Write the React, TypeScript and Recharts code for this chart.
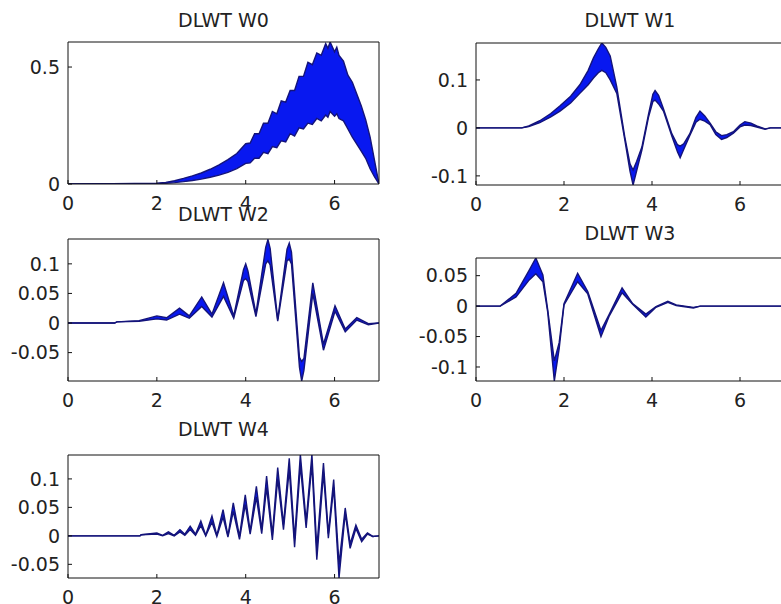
import { Area, ComposedChart, XAxis, YAxis } from "recharts"

const xTicks = [0, 2, 4, 6]

// W0 - dense band between lower and upper envelope
const w0X = [0, 1.0, 2.0, 2.2, 2.4, 2.6, 2.8, 3.0, 3.2, 3.4, 3.6, 3.8, 4.0, 4.1, 4.2, 4.3, 4.4, 4.5, 4.6, 4.7, 4.8, 4.9, 5.0, 5.1, 5.2, 5.3, 5.4, 5.5, 5.6, 5.7, 5.8, 5.85, 5.9, 6.0, 6.05, 6.1, 6.2, 6.3, 6.4, 6.5, 6.6, 6.7, 6.8, 6.9, 6.95, 7.0]
const w0Hi = [0, 0.001, 0.003, 0.007, 0.014, 0.024, 0.035, 0.047, 0.063, 0.082, 0.104, 0.13, 0.172, 0.175, 0.215, 0.215, 0.26, 0.26, 0.31, 0.3, 0.355, 0.35, 0.4, 0.4, 0.46, 0.46, 0.52, 0.51, 0.56, 0.55, 0.6, 0.58, 0.607, 0.565, 0.585, 0.55, 0.525, 0.465, 0.435, 0.385, 0.335, 0.275, 0.2, 0.1, 0.05, 0]
const w0Lo = [0, 0.001, 0.001, 0.003, 0.006, 0.01, 0.015, 0.021, 0.029, 0.038, 0.05, 0.066, 0.088, 0.09, 0.11, 0.11, 0.135, 0.13, 0.16, 0.155, 0.185, 0.18, 0.215, 0.205, 0.24, 0.235, 0.26, 0.255, 0.28, 0.27, 0.295, 0.285, 0.31, 0.29, 0.3, 0.28, 0.27, 0.235, 0.2, 0.17, 0.14, 0.11, 0.065, 0.03, 0.015, 0]

// W1
const w1X = [0, 1.04, 1.2, 1.45, 1.7, 1.91, 2.15, 2.36, 2.55, 2.67, 2.78, 2.86, 2.95, 3.05, 3.2, 3.38, 3.5, 3.57, 3.65, 3.77, 3.92, 4.02, 4.07, 4.15, 4.26, 4.45, 4.58, 4.64, 4.72, 4.86, 5.0, 5.09, 5.2, 5.32, 5.45, 5.58, 5.7, 5.85, 6.0, 6.11, 6.25, 6.38, 6.57, 6.69, 7]
const w1Hi = [0, 0, 0.004, 0.015, 0.03, 0.046, 0.066, 0.09, 0.12, 0.146, 0.165, 0.177, 0.168, 0.15, 0.085, -0.018, -0.075, -0.088, -0.07, -0.04, 0.028, 0.07, 0.078, 0.068, 0.04, -0.012, -0.035, -0.038, -0.033, -0.012, 0.022, 0.035, 0.025, 0.01, -0.008, -0.016, -0.014, -0.008, 0.006, 0.013, 0.01, 0.004, -0.002, 0, 0]
const w1Lo = [0, 0, 0.003, 0.011, 0.023, 0.035, 0.052, 0.072, 0.09, 0.104, 0.115, 0.12, 0.115, 0.1, 0.072, -0.024, -0.09, -0.119, -0.09, -0.046, 0.022, 0.055, 0.058, 0.05, 0.035, -0.017, -0.05, -0.062, -0.045, -0.016, 0.012, 0.018, 0.014, 0.007, -0.014, -0.024, -0.02, -0.011, 0.002, 0.006, 0.005, 0.002, -0.003, 0, 0]

// W2
const w2X = [0, 1.05, 1.1, 1.6, 2.0, 2.22, 2.51, 2.73, 3.01, 3.24, 3.5, 3.73, 3.95, 4.0, 4.05, 4.23, 4.45, 4.5, 4.55, 4.72, 4.93, 4.98, 5.03, 5.21, 5.26, 5.31, 5.51, 5.75, 6.01, 6.24, 6.5, 6.76, 7]
const w2Hi = [0, 0, 0.002, 0.004, 0.012, 0.009, 0.025, 0.012, 0.044, 0.015, 0.068, 0.012, 0.09, 0.1, 0.088, 0.016, 0.128, 0.141, 0.126, 0.006, 0.125, 0.135, 0.12, -0.058, -0.065, -0.06, 0.068, -0.036, 0.029, -0.01, 0.009, -0.001, 0]
const w2Lo = [0, 0, 0.002, 0.003, 0.007, 0.005, 0.015, 0.008, 0.028, 0.01, 0.045, 0.008, 0.072, 0.075, 0.07, 0.011, 0.1, 0.105, 0.098, 0.003, 0.105, 0.108, 0.1, -0.075, -0.098, -0.08, 0.05, -0.046, 0.02, -0.015, 0.005, -0.003, 0]

// W3
const w3X = [0, 0.55, 0.91, 1.21, 1.36, 1.52, 1.63, 1.78, 1.89, 2.0, 2.31, 2.54, 2.84, 3.03, 3.32, 3.56, 3.86, 4.09, 4.36, 4.55, 4.94, 5.1, 7]
const w3Hi = [0, 0, 0.021, 0.059, 0.079, 0.051, -0.006, -0.09, -0.06, 0.004, 0.054, 0.024, -0.04, -0.013, 0.03, 0.004, -0.013, -0.001, 0.008, 0.002, -0.002, 0, 0]
const w3Lo = [0, 0, 0.015, 0.043, 0.053, 0.04, -0.01, -0.123, -0.07, 0.002, 0.04, 0.02, -0.05, -0.016, 0.022, 0.003, -0.018, -0.002, 0.006, 0.001, -0.003, 0, 0]

// W4
const w4X = [0, 1.62, 1.65, 2.0, 2.13, 2.26, 2.39, 2.52, 2.63, 2.75, 2.87, 2.99, 3.1, 3.24, 3.35, 3.49, 3.6, 3.72, 3.86, 3.99, 4.1, 4.24, 4.36, 4.47, 4.6, 4.72, 4.85, 4.98, 5.1, 5.23, 5.36, 5.49, 5.6, 5.75, 5.86, 5.98, 6.1, 6.24, 6.35, 6.48, 6.61, 6.74, 6.86, 7]
const w4Hi = [0, 0, 0.002, 0.005, 0.001, 0.007, 0.001, 0.011, 0.003, 0.017, 0.003, 0.026, 0.001, 0.035, 0.001, 0.046, 0.0, 0.058, -0.001, 0.072, 0.008, 0.087, 0.011, 0.105, 0.002, 0.12, 0.02, 0.136, -0.005, 0.143, 0.025, 0.143, -0.022, 0.128, 0.004, 0.099, -0.05, 0.049, -0.014, 0.019, -0.006, 0.005, -0.001, 0]
const w4Lo = [0, 0, 0.002, 0.003, 0.0, 0.004, 0.0, 0.007, 0.001, 0.011, 0.001, 0.018, 0.0, 0.024, -0.001, 0.033, -0.002, 0.043, -0.006, 0.055, 0.003, 0.068, 0.004, 0.085, -0.007, 0.1, 0.011, 0.116, -0.02, 0.124, 0.014, 0.126, -0.042, 0.11, -0.004, 0.085, -0.074, 0.04, -0.022, 0.013, -0.01, 0.003, -0.001, 0]

const rows = (xs: number[], hi: number[], lo: number[]) =>
  xs.map((x, i) => ({ x, band: [lo[i], hi[i]] }))

const font = "DejaVu Sans"
const tickStyle = { fontSize: 19, fill: "#222", fontFamily: font }

type PanelProps = {
  title: string
  data: { x: number; band: number[] }[]
  left: number
  top: number
  width: number
  height: number
  titleY: number
  yDomain: [number, number]
  yTicks: number[]
}

function Panel({ title, data, left, top, width, height, titleY, yDomain, yTicks }: PanelProps) {
  const padL = 62
  const padT = 6
  const padR = 6
  const padB = 36
  return (
    <>
      <div
        style={{
          position: "absolute",
          left: left + width / 2 - 100,
          width: 200,
          top: titleY - 10,
          lineHeight: "20px",
          fontSize: 19,
          fontFamily: font,
          color: "#222",
          textAlign: "center",
        }}
      >
        {title}
      </div>
      <div style={{ position: "absolute", left: left - padL, top: top - padT }}>
        <ComposedChart
          width={width + padL + padR}
          height={height + padT + padB}
          data={data}
          margin={{ top: padT - 1, right: padR - 1, bottom: 0, left: 0 }}
        >
          <XAxis
            dataKey="x"
            type="number"
            domain={[0, 7]}
            ticks={xTicks}
            allowDataOverflow
            height={padB}
            tickSize={-4}
            tickMargin={17}
            tick={tickStyle}
            stroke="#111"
          />
          {/* top and right axes only close the box and carry inward ticks */}
          <XAxis
            xAxisId="top"
            orientation="top"
            dataKey="x"
            type="number"
            domain={[0, 7]}
            ticks={xTicks}
            allowDataOverflow
            height={1}
            tickSize={-4}
            tick={false}
            stroke="#111"
          />
          <YAxis
            type="number"
            domain={yDomain}
            ticks={yTicks}
            allowDataOverflow
            width={padL}
            tickSize={-4}
            tickMargin={12}
            tick={tickStyle}
            stroke="#111"
          />
          <YAxis
            yAxisId="right"
            orientation="right"
            type="number"
            domain={yDomain}
            ticks={yTicks}
            allowDataOverflow
            width={1}
            tickSize={-4}
            tick={false}
            stroke="#111"
          />
          <Area
            xAxisId="top"
            yAxisId="right"
            dataKey="band"
            type="linear"
            stroke="none"
            fill="none"
            dot={false}
            activeDot={false}
            isAnimationActive={false}
          />
          <Area
            dataKey="band"
            type="linear"
            stroke="#14147a"
            strokeWidth={1.4}
            fill="#0818f0"
            fillOpacity={1}
            dot={false}
            activeDot={false}
            isAnimationActive={false}
          />
        </ComposedChart>
      </div>
    </>
  )
}

export default function App() {
  return (
    <div
      style={{
        position: "absolute",
        left: 0,
        top: 0,
        width: 781,
        height: 604,
        overflow: "hidden",
        background: "#fff",
      }}
    >
      <Panel title="DLWT W0" data={rows(w0X, w0Hi, w0Lo)} left={68} top={42} width={311} height={142} titleY={20} yDomain={[0, 0.607]} yTicks={[0, 0.5]} />
      <Panel title="DLWT W1" data={rows(w1X, w1Hi, w1Lo)} left={476} top={43} width={308} height={142} titleY={20} yDomain={[-0.119, 0.177]} yTicks={[-0.1, 0, 0.1]} />
      <Panel title="DLWT W2" data={rows(w2X, w2Hi, w2Lo)} left={68} top={239} width={311} height={142} titleY={214} yDomain={[-0.098, 0.142]} yTicks={[-0.05, 0, 0.05, 0.1]} />
      <Panel title="DLWT W3" data={rows(w3X, w3Hi, w3Lo)} left={476} top={258} width={308} height={123} titleY={233} yDomain={[-0.123, 0.079]} yTicks={[-0.1, -0.05, 0, 0.05]} />
      <Panel title="DLWT W4" data={rows(w4X, w4Hi, w4Lo)} left={68} top={455} width={311} height={123} titleY={429} yDomain={[-0.074, 0.142]} yTicks={[-0.05, 0, 0.05, 0.1]} />
    </div>
  )
}
